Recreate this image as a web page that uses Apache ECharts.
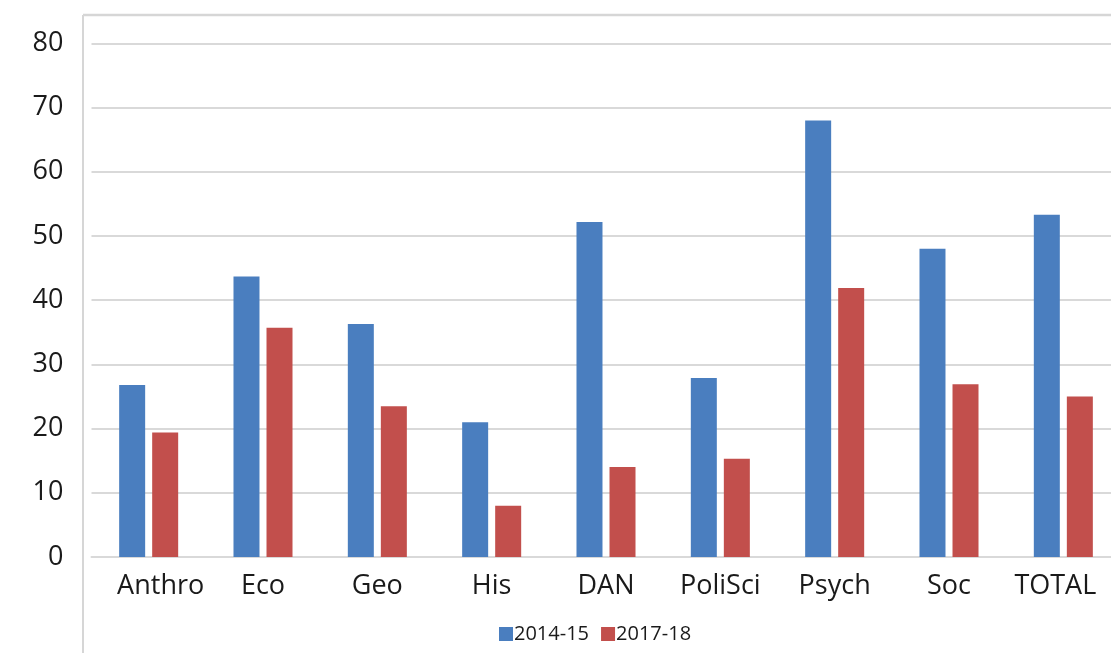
<!DOCTYPE html>
<html>
<head>
<meta charset="utf-8">
<title>Department comparison</title>
<script src="https://cdn.jsdelivr.net/npm/echarts@6/dist/echarts.min.js"></script>
<style>
  html, body { margin: 0; padding: 0; background: #ffffff; overflow: hidden; }
  /* the plot runs a little past the right edge of the page */
  #chart { width: 1121px; height: 653px; }
</style>
</head>
<body>
<div id="chart"></div>
<script>
// Departments along the x axis
const categories = ['Anthro', 'Eco', 'Geo', 'His', 'DAN', 'PoliSci', 'Psych', 'Soc', 'TOTAL'];

// Series names
const seriesNames = ['2014-15', '2017-18'];

// Values per department
const values2014 = [26.8, 43.7, 36.3, 21.0, 52.2, 27.9, 68.0, 48.0, 53.3];
const values2017 = [19.4, 35.7, 23.5, 8.0, 14.0, 15.3, 41.9, 26.9, 25.0];

// Value axis ticks
const yTicks = [0, 10, 20, 30, 40, 50, 60, 70, 80];

const FONT = '"Open Sans", "Liberation Sans", sans-serif';
const TEXT = '#1a1a1a';
const GRID_LINE = '#d9d9d9';

const chart = echarts.init(document.getElementById('chart'), null, { renderer: 'canvas' });

chart.setOption({
  backgroundColor: '#ffffff',
  animation: false,
  graphic: [
    // frame edges around the chart area
    { type: 'line', shape: { x1: 83, y1: 15, x2: 1121, y2: 15 },
      style: { stroke: '#d6d6d6', lineWidth: 2.5 } },
    { type: 'line', shape: { x1: 83, y1: 15, x2: 83, y2: 653 },
      style: { stroke: '#d6d6d6', lineWidth: 2 } }
  ],
  grid: {
    left: 91.5,
    top: 43.4,
    right: 0.5,
    height: 513.6,
    containLabel: false
  },
  legend: {
    data: seriesNames,
    left: 494,
    top: 619,
    itemWidth: 14,
    itemHeight: 14,
    itemGap: 12,
    icon: 'rect',
    textStyle: { fontFamily: FONT, fontSize: 20, color: TEXT, padding: [0, 0, 0, -4] }
  },
  xAxis: {
    type: 'category',
    data: categories,
    axisLine: { show: true, lineStyle: { color: GRID_LINE, width: 2 } },
    axisTick: { show: false },
    axisLabel: {
      interval: 0,
      margin: 16,
      fontFamily: FONT,
      fontSize: 27,
      color: TEXT,
      formatter: function (v) {
        if (v === 'Anthro') return '{first|' + v + '}';
        if (v === 'TOTAL') return '{last|' + v + '}';
        return v;
      },
      rich: {
        first: { fontFamily: FONT, fontSize: 27, color: TEXT, padding: [0, 0, 0, 24] },
        last: { fontFamily: FONT, fontSize: 27, color: TEXT, padding: [0, 16, 0, 0] }
      }
    }
  },
  yAxis: {
    type: 'value',
    min: yTicks[0],
    max: yTicks[yTicks.length - 1],
    interval: yTicks[1] - yTicks[0],
    axisLine: { show: false },
    axisTick: { show: false },
    axisLabel: {
      margin: 28,
      fontFamily: FONT,
      fontSize: 27,
      color: TEXT
    },
    splitLine: { show: true, lineStyle: { color: GRID_LINE, width: 2 } }
  },
  series: [
    {
      name: seriesNames[0],
      type: 'bar',
      data: values2014,
      barWidth: 26,
      barGap: '27%',
      itemStyle: { color: '#4a7ebf' }
    },
    {
      name: seriesNames[1],
      type: 'bar',
      data: values2017,
      barWidth: 26,
      barGap: '27%',
      itemStyle: { color: '#c24f4c' }
    }
  ]
});
</script>
</body>
</html>
